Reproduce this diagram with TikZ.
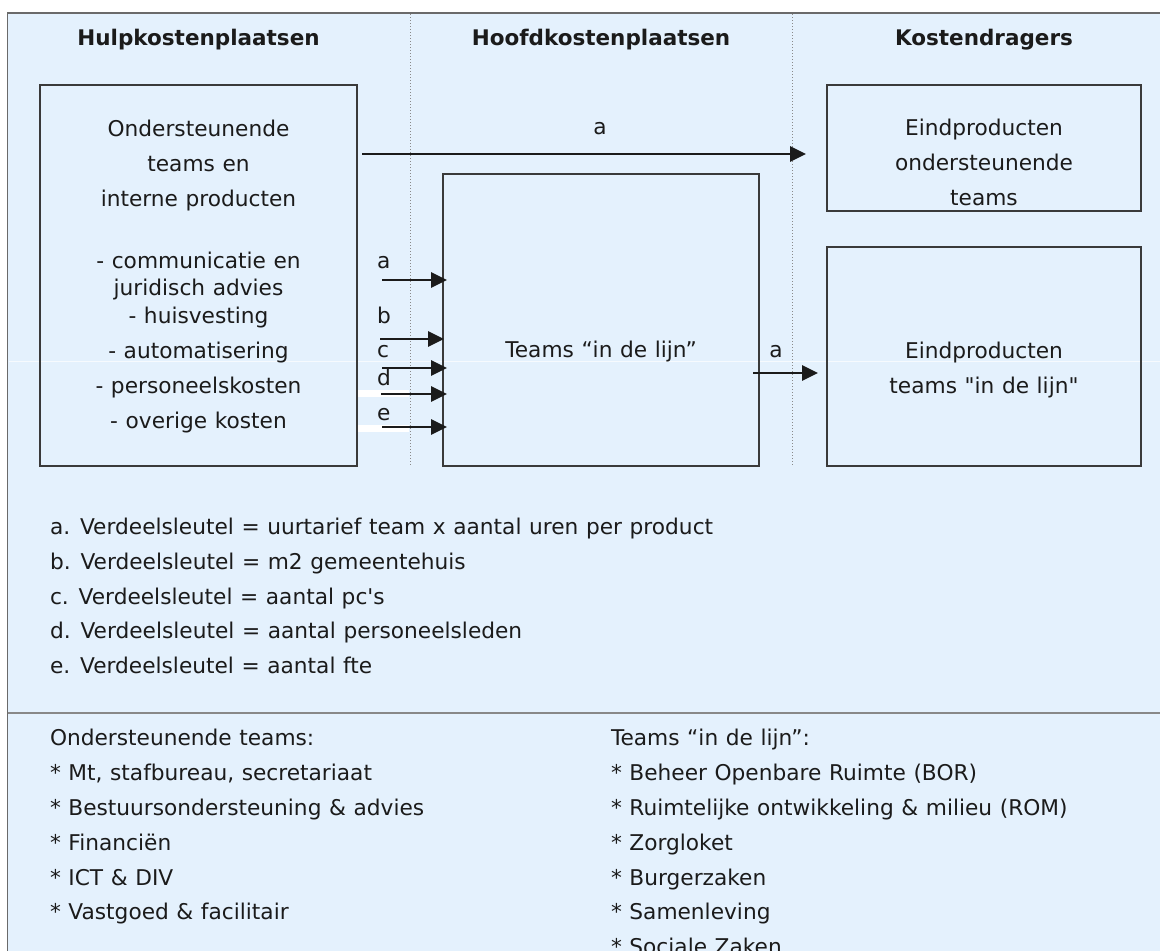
\documentclass[tikz,border=0pt]{standalone}
\usepackage{fontspec}
\setmainfont{DejaVu Sans}[WordSpace=1.1]
\usetikzlibrary{arrows.meta}
\definecolor{bg}{HTML}{E4F1FD}
\definecolor{ink}{HTML}{1B1B1B}
\definecolor{boxc}{HTML}{3A3A3A}
\definecolor{framec}{HTML}{6A6A6A}
\definecolor{dotc}{HTML}{8A8A8A}
\begin{document}
\begin{tikzpicture}[x=1pt,y=-1pt,
  every node/.style={inner sep=0pt, outer sep=0pt, text=ink},
  lbl/.style={font=\fontsize{21.7}{26}\selectfont, anchor=base},
  lleft/.style={lbl, anchor=base west},
  head/.style={lbl, font=\fontsize{21.5}{26}\selectfont\bfseries},
  box/.style={draw=boxc, line width=1.7pt},
  arr/.style={line width=2.8pt, draw=ink, -{Triangle[length=16pt,width=15pt]}},
  sepdot/.style={draw=dotc, line width=1pt, dotted},
  seam/.style={draw=white, line width=1pt, opacity=0.7},
  glare/.style={fill=white, draw=none},
]
\useasboundingbox (0,0) rectangle (1160,951);
\clip (0,0) rectangle (1160,951);
\fill[white] (0,0) rectangle (1160,951);
\fill[bg] (7.5,13) rectangle (1160,951);
\draw[framec, line width=1.6pt] (7.5,960) -- (7.5,13) -- (1170,13);
\draw[framec!80, line width=1.6pt] (7.5,713) -- (1170,713);
\draw[sepdot] (410,14) -- (410,466);
\draw[sepdot] (792,14) -- (792,466);
\draw[seam] (8.5,361.5) -- (1160,361.5);

% headers
\node[head] (h1) at (198.5,45) {Hulpkostenplaatsen};
\node[head] (h2) at (601,45) {Hoofdkostenplaatsen};
\node[head] (h3) at (984,45) {Kostendragers};

% boxes
\node[box, anchor=north west, minimum width=317pt, minimum height=381pt] (hulp) at (40,85) {};
\node[box, anchor=north west, minimum width=316pt, minimum height=292pt] (lijn) at (443,174) {};
\node[box, anchor=north west, minimum width=314pt, minimum height=126pt] (eind1) at (827,85) {};
\node[box, anchor=north west, minimum width=314pt, minimum height=219pt] (eind2) at (827,247) {};

% left box text
\node[lbl] (t1) at (198.5,136) {Ondersteunende};
\node[lbl] (t2) at (198.5,171) {teams en};
\node[lbl] (t3) at (198.5,206) {interne producten};
\node[lbl] (t4) at (198.5,268) {- communicatie en};
\node[lbl] (t5) at (198.5,295) {juridisch advies};
\node[lbl] (t6) at (198.5,323) {- huisvesting};
\node[lbl] (t7) at (198.5,358) {- automatisering};
\node[lbl] (t8) at (198.5,393) {- personeelskosten};
\node[lbl] (t9) at (198.5,428) {- overige kosten};

% middle box text
\node[lbl] (m1) at (601,357) {Teams “in de lijn”};

% right boxes text
\node[lbl] (r1) at (984,135) {Eindproducten};
\node[lbl] (r2) at (984,170) {ondersteunende};
\node[lbl] (r3) at (984,205) {teams};
\node[lbl] (r4) at (984,358) {Eindproducten};
\node[lbl] (r5) at (984,393) {teams \textquotedbl in de lijn\textquotedbl};

% glare bars
\fill[glare] (358,390) rectangle (409,397);
\fill[glare] (358,424.5) rectangle (409,432);

% arrows
\draw[arr] ([xshift=5pt]hulp.east |- 0,154) -- ([xshift=-21pt]eind1.west |- 0,154);
\node[lbl] (la0) at (600,134) {a};
\draw[arr] ([xshift=-61pt]lijn.west |- 0,280) -- ([xshift=4pt]lijn.west |- 0,280);
\draw[arr] ([xshift=-63pt]lijn.west |- 0,339) -- ([xshift=1pt]lijn.west |- 0,339);
\draw[arr] ([xshift=-61pt]lijn.west |- 0,368) -- ([xshift=4pt]lijn.west |- 0,368);
\draw[arr] ([xshift=-62pt]lijn.west |- 0,394) -- ([xshift=4pt]lijn.west |- 0,394);
\draw[arr] ([xshift=-61pt]lijn.west |- 0,427) -- ([xshift=4pt]lijn.west |- 0,427);
\node[lleft] (la) at (377,268) {a};
\node[lleft] (lb) at (377,323) {b};
\node[lleft] (lc) at (377,357) {c};
\node[lleft] (ld) at (377,385) {d};
\node[lleft] (le) at (377,420) {e};
\draw[arr] ([xshift=-6pt]lijn.east |- 0,373) -- ([xshift=-9pt]eind2.west |- 0,373);
\node[lbl] (lr) at (776,357) {a};

% legend
\node[lleft] (k1) at (50,534) {a. Verdeelsleutel = uurtarief team x aantal uren per product};
\node[lleft] (k2) at (50,569) {b. Verdeelsleutel = m2 gemeentehuis};
\node[lleft] (k3) at (50,604) {c. Verdeelsleutel = aantal pc\textquotesingle s};
\node[lleft] (k4) at (50,638) {d. Verdeelsleutel = aantal personeelsleden};
\node[lleft] (k5) at (50,673) {e. Verdeelsleutel = aantal fte};

% bottom lists
\node[lleft] (o0) at (50,745) {Ondersteunende teams:};
\node[lleft] (o1) at (50,780) {* Mt, stafbureau, secretariaat};
\node[lleft] (o2) at (50,815) {* Bestuursondersteuning \& advies};
\node[lleft] (o3) at (50,850) {* Financiën};
\node[lleft] (o4) at (50,885) {* ICT \& DIV};
\node[lleft] (o5) at (50,919) {* Vastgoed \& facilitair};

\node[lleft] (n0) at (611,745) {Teams “in de lijn”:};
\node[lleft] (n1) at (611,780) {* Beheer Openbare Ruimte (BOR)};
\node[lleft] (n2) at (611,815) {* Ruimtelijke ontwikkeling \& milieu (ROM)};
\node[lleft] (n3) at (611,850) {* Zorgloket};
\node[lleft] (n4) at (611,885) {* Burgerzaken};
\node[lleft] (n5) at (611,919) {* Samenleving};
\node[lleft] (n6) at (611,954) {* Sociale Zaken};
\end{tikzpicture}
\end{document}
